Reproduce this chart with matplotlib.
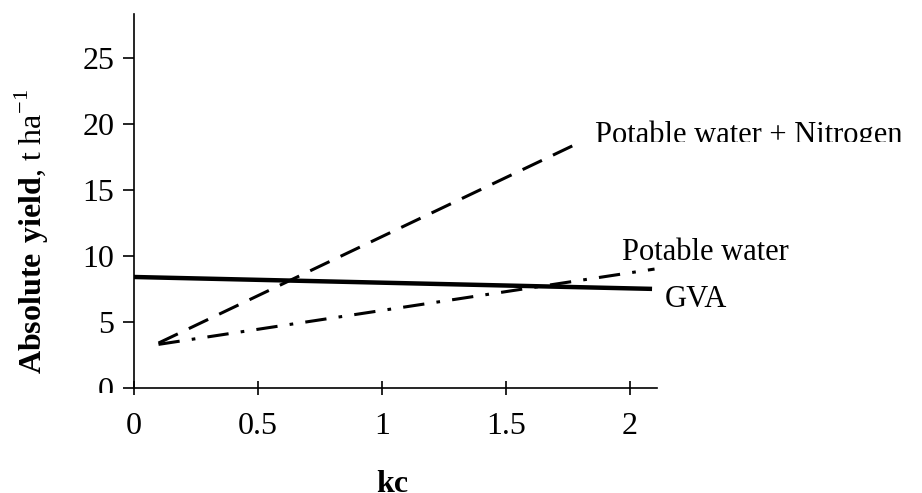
import matplotlib.pyplot as plt
from matplotlib.transforms import Bbox, TransformedBbox

plt.rcParams['font.family'] = ['Liberation Serif', 'DejaVu Serif']
plt.rcParams['mathtext.fontset'] = 'custom'
plt.rcParams['mathtext.rm'] = 'Liberation Serif'
plt.rcParams['mathtext.bf'] = 'Liberation Serif:bold'

# Yield lines against crop coefficient (kc)
gva_kc = [0.0, 2.09]
gva_yield = [8.4, 7.5]

nitrogen_kc = [0.1, 1.8]
nitrogen_yield = [3.4, 18.6]

potable_kc = [0.1, 2.1]
potable_yield = [3.3, 9.0]

xticks = [0, 0.5, 1, 1.5, 2]
xtick_labels = ['0', '0.5', '1', '1.5', '2']
yticks = [0, 5, 10, 15, 20, 25]

fig = plt.figure(figsize=(9.22, 4.93), dpi=100)
ax = fig.add_axes([0.145, 0.213, 0.5676, 0.7586])

ax.plot(gva_kc, gva_yield, color='black', lw=3.2, solid_capstyle='butt')
ax.plot(nitrogen_kc, nitrogen_yield, color='black', lw=2.2, dashes=(7, 4))
ax.plot(potable_kc, potable_yield, color='black', lw=2.2, dashes=(7, 4, 1.2, 4))

ax.set_xlim(0, 2.11)
ax.set_ylim(0, 28.3)

for side in ['top', 'right']:
    ax.spines[side].set_visible(False)
for side in ['left', 'bottom']:
    ax.spines[side].set_linewidth(1.2)

ax.set_xticks(xticks)
ax.set_xticklabels(xtick_labels)
ax.set_yticks(yticks)
ax.tick_params(axis='x', direction='inout', length=10, width=1.2, pad=12, labelsize=23)
ax.tick_params(axis='y', direction='out', length=8, width=1.2, pad=6, labelsize=23)

# bottom y label sits partly under the x axis and gets cut
clip = TransformedBbox(Bbox([[0, 0.203], [1, 1]]), fig.transFigure)
for lab in ax.get_yticklabels():
    lab.set_clip_on(True)
    lab.set_clip_box(clip)

t = ax.text(1.86, 18.55, 'Potable water + Nitrogen', fontsize=22, ha='left',
            va='baseline')
t.set_clip_path(None)
t.set_clip_box(TransformedBbox(Bbox([[0, 0.712], [1, 1]]), fig.transFigure))
t.set_clip_on(True)
ax.text(1.97, 9.65, 'Potable water', fontsize=22, ha='left', va='baseline', clip_on=False)
ax.text(2.14, 6.15, 'GVA', fontsize=22, ha='left', va='baseline', clip_on=False)

fig.text(0.035, 0.53, r'$\mathbf{Absolute\ yield}$, t ha$^{-1}$', rotation=90,
         fontsize=23, ha='center', va='center')
fig.text(0.425, -0.012, 'kc', fontsize=23, fontweight='bold', ha='center', va='bottom')

plt.savefig('out.png', dpi=100)
